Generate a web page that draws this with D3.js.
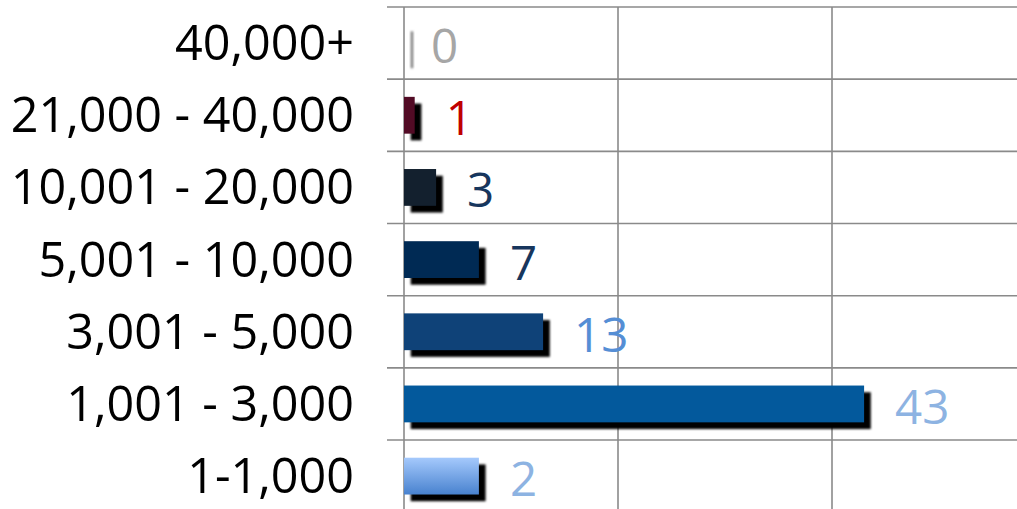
<!DOCTYPE html>
<html><head><meta charset="utf-8">
<script src="https://cdn.jsdelivr.net/npm/d3@7/dist/d3.min.js"></script>
<style>html,body{margin:0;padding:0;background:#fff;overflow:hidden}</style>
</head><body>
<script>
const categories = ["40,000+","21,000 - 40,000","10,001 - 20,000","5,001 - 10,000","3,001 - 5,000","1,001 - 3,000","1-1,000"];
const barValues = [0, 1, 3, 7, 13, 43, 7];
const valueLabels = ["0","1","3","7","13","43","2"];
const barColors = ["#8c8c8c","#520b25","#13202e","#002a54","#0f4278","#03599c","url(#gradLight)"];
const labelColors = ["#a6a6a6","#c00000","#17365d","#17365d","#558ed5","#8db3e2","#8db3e2"];
const xTicks = [0, 20, 40, 60];

const W = 1017, H = 509;
const svg = d3.select("body").append("svg").attr("width", W).attr("height", H);
const defs = svg.append("defs");
const g1 = defs.append("linearGradient").attr("id","gradLight").attr("x1",0).attr("y1",0).attr("x2",0).attr("y2",1);
g1.append("stop").attr("offset","0%").attr("stop-color","#a5c9fc");
g1.append("stop").attr("offset","100%").attr("stop-color","#4882cf");
const f = defs.append("filter").attr("id","blur").attr("x","-50%").attr("y","-50%").attr("width","200%").attr("height","200%");
f.append("feGaussianBlur").attr("stdDeviation",0.9);

const x = d3.scaleLinear().domain([0, 60]).range([404, 1046]);
const y = d3.scaleBand().domain(categories).range([7, 512.2]).paddingInner(0.49).paddingOuter(0.245);
const step = y.step();
const boundaries = categories.map((c,i)=> 7 + i*step).concat([7 + categories.length*step]);

const grid = svg.append("g");
grid.selectAll("line.h").data(boundaries).join("line")
  .attr("x1", 387).attr("x2", W).attr("y1", d=>d).attr("y2", d=>d)
  .attr("stroke","#8a8a8a").attr("stroke-width",1.6);
grid.selectAll("line.v").data(xTicks).join("line")
  .attr("x1", d=>x(d)).attr("x2", d=>x(d)).attr("y1", 7).attr("y2", H)
  .attr("stroke","#8a8a8a").attr("stroke-width",1.6);

const off = 6.7;
svg.append("g").selectAll("rect").data(categories).join("rect")
  .attr("x", (d,i)=> x(0) + off)
  .attr("y", d=> y(d) + off)
  .attr("width", (d,i)=> Math.max(x(barValues[i]) - x(0), 2.5))
  .attr("height", y.bandwidth())
  .attr("fill", (d,i)=> barValues[i] === 0 ? "#7a7a7a" : "#000")
  .attr("filter","url(#blur)");
svg.append("g").selectAll("rect").data(categories).join("rect")
  .attr("x", x(0))
  .attr("y", d=> y(d))
  .attr("width", (d,i)=> x(barValues[i]) - x(0))
  .attr("height", y.bandwidth())
  .attr("fill", (d,i)=> barColors[i]);

const fontFam = "'Open Sans', Lato, sans-serif";
svg.append("g").selectAll("text").data(categories).join("text")
  .attr("x", 354)
  .attr("y", d=> y(d)+y.bandwidth()/2+17)
  .attr("text-anchor","end")
  .attr("font-family", fontFam).attr("font-size", 48.5)
  .attr("fill","#000")
  .text(d=>d);
svg.append("g").selectAll("text").data(categories).join("text")
  .attr("x", (d,i)=> x(barValues[i]) + (barValues[i] === 0 ? 27 : 31))
  .attr("y", d=> y(d)+y.bandwidth()/2+20)
  .attr("font-family", fontFam).attr("font-size", 47.5)
  .attr("fill", (d,i)=> labelColors[i])
  .text((d,i)=> valueLabels[i]);
</script>
</body></html>
